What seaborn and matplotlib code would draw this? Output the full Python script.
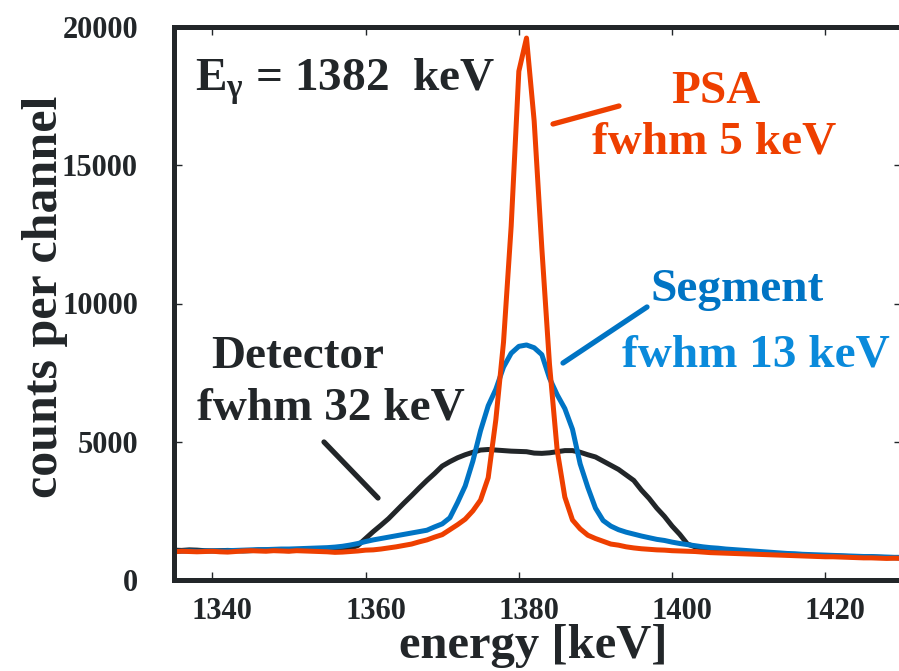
import matplotlib
matplotlib.use("Agg")
import matplotlib.pyplot as plt
from matplotlib.transforms import ScaledTranslation
import seaborn as sns

# ---- data ----
energy = list(range(1335, 1431))  # keV channel grid, 1 keV spacing

detector = [1080, 1070, 1090, 1080, 1060, 1050, 1060, 1070, 1060, 1050,
            1060, 1080, 1090, 1080, 1070, 1060, 1080, 1090, 1100, 1090,
            1100, 1110, 1130, 1150, 1250, 1500, 1750, 1980, 2220, 2500,
            2780, 3050, 3330, 3600, 3850, 4120, 4280, 4420, 4530, 4620,
            4700, 4720, 4700, 4680, 4660, 4650, 4640, 4590, 4580, 4600,
            4640, 4680, 4680, 4620, 4530, 4450, 4300, 4150, 4000, 3800,
            3600, 3250, 2950, 2600, 2300, 1950, 1650, 1300, 1200, 1150,
            1120, 1090, 1060, 1040, 1010, 990, 980, 960, 950, 940,
            920, 910, 900, 890, 880, 870, 870, 860, 850, 840,
            830, 830, 820, 810, 800, 800]

segment = [1030, 1040, 1050, 1040, 1050, 1060, 1050, 1060, 1070, 1080,
           1090, 1100, 1100, 1110, 1120, 1120, 1130, 1140, 1150, 1160,
           1170, 1190, 1220, 1265, 1320, 1390, 1450, 1500, 1550, 1600,
           1650, 1700, 1750, 1800, 1920, 2030, 2250, 2800, 3400, 4300,
           5400, 6300, 6900, 7700, 8200, 8450, 8500, 8400, 8150, 7300,
           6700, 6200, 5450, 4200, 3350, 2600, 2150, 1950, 1820, 1730,
           1660, 1590, 1530, 1470, 1430, 1370, 1320, 1280, 1240, 1200,
           1170, 1150, 1120, 1100, 1080, 1060, 1040, 1020, 1000, 980,
           960, 950, 930, 920, 910, 900, 890, 880, 870, 860,
           850, 850, 840, 830, 820, 820]

psa = [1020, 1040, 1030, 1020, 1030, 1040, 1020, 1010, 1030, 1050,
       1060, 1050, 1040, 1060, 1050, 1040, 1060, 1050, 1040, 1030,
       1020, 1000, 1010, 1030, 1050, 1080, 1090, 1120, 1160, 1200,
       1250, 1300, 1380, 1450, 1550, 1640, 1820, 2000, 2200, 2500,
       2890, 3700, 5800, 8600, 12800, 18400, 19600, 16600, 12000, 7800,
       4700, 3000, 2170, 1850, 1620, 1500, 1400, 1300, 1260, 1200,
       1160, 1130, 1110, 1090, 1080, 1060, 1050, 1040, 1030, 1010,
       990, 980, 970, 960, 950, 940, 930, 920, 910, 900,
       890, 880, 870, 860, 850, 840, 840, 830, 820, 810,
       800, 800, 790, 780, 790, 780]

x_ticks = [1340, 1360, 1380, 1400, 1420]
y_ticks = [0, 5000, 10000, 15000, 20000]

# ---- style ----
sns.set_theme(style="ticks")
plt.rcParams['font.family'] = ['Liberation Serif', 'DejaVu Serif']
plt.rcParams['font.weight'] = 'bold'
plt.rcParams['mathtext.fontset'] = 'custom'
plt.rcParams['mathtext.rm'] = 'Liberation Serif:bold'

DARK = '#222629'
RED = '#EE3F00'
BLUE = '#0074C4'
BLUE2 = '#0A8ADB'

W, H = 899, 671
fig = plt.figure(figsize=(W / 100, H / 100), dpi=100)
ax = fig.add_axes([174 / W, 1 - 580 / H, (902 - 174) / W, (580 - 27) / H])

lw = 3.6
sns.lineplot(x=energy, y=detector, ax=ax, color=DARK, lw=lw, estimator=None)
sns.lineplot(x=energy, y=segment, ax=ax, color=BLUE, lw=lw, estimator=None)
sns.lineplot(x=energy, y=psa, ax=ax, color=RED, lw=lw, estimator=None)

ax.set_xlim(1335, 1430)
ax.set_ylim(0, 20000)
ax.set_xticks(x_ticks)
ax.set_yticks(y_ticks)
ax.set_xticklabels([str(v) for v in x_ticks])
ax.set_yticklabels([str(v) for v in y_ticks])
ax.tick_params(direction='in', length=6, width=1.0, color=DARK,
               top=True, right=True, labelsize=22, labelcolor=DARK)
ax.tick_params(axis='y', pad=26)
ax.tick_params(axis='x', pad=12)
shift = ScaledTranslation(10 / 100, 0, fig.dpi_scale_trans)
for lab in ax.get_xticklabels():
    lab.set_fontweight('bold')
    lab.set_transform(lab.get_transform() + shift)
for lab in ax.get_yticklabels():
    lab.set_fontweight('bold')
for s in ax.spines.values():
    s.set_linewidth(3.6)
    s.set_color(DARK)
    s.set_visible(True)
ax.set_xlabel('')
ax.set_ylabel('')

# axis titles in figure coordinates
fig.text(533 / W, 1 - 646 / H, 'energy [keV]', fontsize=35, fontweight='bold',
         color=DARK, ha='center', va='center')
fig.text(45 / W, 1 - 297 / H, 'counts per channel', fontsize=36, fontweight='bold',
         color=DARK, ha='center', va='center', rotation=90)

def ftext(x, y, s, color, **kw):
    fig.text(x / W, 1 - y / H, s, fontsize=34, fontweight='bold', color=color,
             ha='center', va='center', **kw)

fig.text(195 / W, 1 - 82 / H, r'E$_{\mathregular{γ}}$ = 1382  keV', fontsize=34,
         fontweight='bold', color=DARK, ha='left', va='center')
ftext(716, 92, 'PSA', RED)
ftext(714, 143, 'fwhm 5 keV', RED)
ftext(737, 290, 'Segment', BLUE)
ftext(756, 355, 'fwhm 13 keV', BLUE2)
ftext(298, 357, 'Detector', DARK)
ftext(331, 408, 'fwhm 32 keV', DARK)

def pline(x0, y0, x1, y1, color):
    fig.add_artist(plt.Line2D([x0 / W, x1 / W], [1 - y0 / H, 1 - y1 / H],
                              transform=fig.transFigure, color=color, lw=3.8,
                              solid_capstyle='round'))

pline(553, 124, 619, 106, RED)
pline(563, 363, 647, 307, BLUE)
pline(324, 442, 378, 498, DARK)

fig.savefig('out.png', dpi=100)
